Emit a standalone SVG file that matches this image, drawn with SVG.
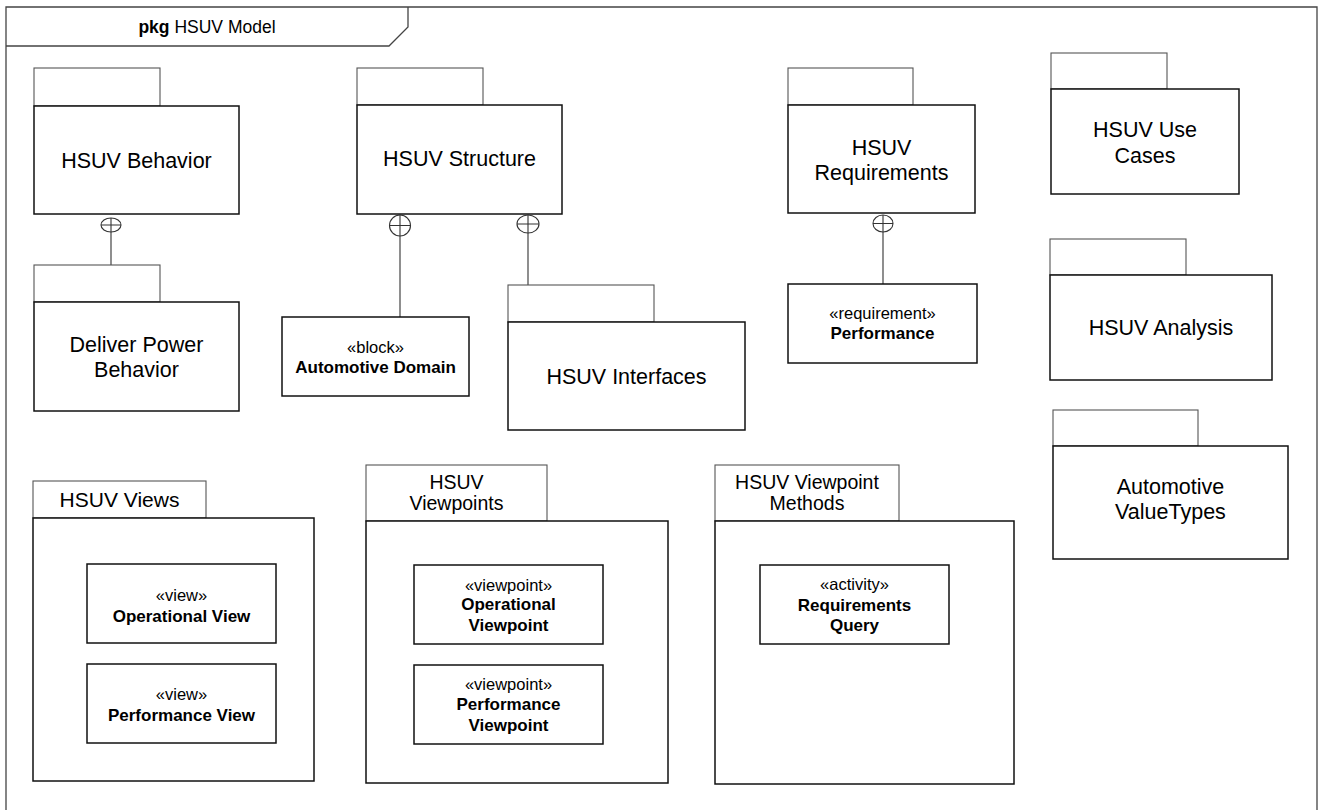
<svg xmlns="http://www.w3.org/2000/svg" width="1322" height="810" viewBox="0 0 1322 810">
<style>
.frame{fill:none;stroke:#444;stroke-width:1.3}
.tab{fill:#fff;stroke:#555;stroke-width:1.1}
.body{fill:#fff;stroke:#111;stroke-width:1.5}
.box{fill:#fff;stroke:#111;stroke-width:1.5}
.conn{fill:none;stroke:#444;stroke-width:1.2}
.own{fill:#fff;stroke:#333;stroke-width:1.1}
text{font-family:"Liberation Sans",Arial,sans-serif;fill:#000;text-anchor:middle}
.pn{font-size:21.5px}
.tn{font-size:21px}
.tn2{font-size:19.5px}
.st{font-size:16.5px}
.nm{font-size:17px;font-weight:bold}
.ttl{font-size:17.5px}
</style>
<rect x="0" y="0" width="1322" height="810" fill="#fff"/>
<g id="frame">
<path class="frame" d="M6,820 V7 H1317 V820"/>
<path class="frame" d="M6,46 H389 L408,27 V7"/>
<text class="ttl" x="207" y="32.5"><tspan font-weight="bold">pkg</tspan> HSUV Model</text>
</g>
<g id="connectors">
<line class="conn" x1="111" y1="232" x2="111" y2="265"/>
<line class="conn" x1="400" y1="236" x2="400" y2="317"/>
<line class="conn" x1="528" y1="233" x2="528" y2="285"/>
<line class="conn" x1="883" y1="232" x2="883" y2="284"/>
<g>
<ellipse class="own" cx="111" cy="225" rx="10" ry="7"/>
<path class="own" d="M101,225 H121 M111,218 V232"/>
<ellipse class="own" cx="400" cy="225.5" rx="10.5" ry="10.5"/>
<path class="own" d="M389.5,225.5 H410.5 M400,215 V236"/>
<ellipse class="own" cx="528" cy="224" rx="11" ry="9"/>
<path class="own" d="M517,224 H539 M528,215 V233"/>
<ellipse class="own" cx="883" cy="223.5" rx="10" ry="8.5"/>
<path class="own" d="M873,223.5 H893 M883,215 V232"/>
</g>
</g>
<g id="hsuv-behavior">
<rect class="tab" x="34" y="68" width="126" height="38"/>
<rect class="body" x="34" y="106" width="205" height="108"/>
<text class="pn" x="136.5" y="167.5">HSUV Behavior</text>
</g>
<g id="deliver-power-behavior">
<rect class="tab" x="34" y="265" width="126" height="37"/>
<rect class="body" x="34" y="302" width="205" height="109"/>
<text class="pn" x="136.5" y="351.5">Deliver Power</text>
<text class="pn" x="136.5" y="376.5">Behavior</text>
</g>
<g id="hsuv-structure">
<rect class="tab" x="357" y="68" width="126" height="37"/>
<rect class="body" x="357" y="105" width="205" height="109"/>
<text class="pn" x="459.5" y="166">HSUV Structure</text>
</g>
<g id="automotive-domain">
<rect class="box" x="282" y="317" width="187" height="79"/>
<text class="st" x="375.5" y="353">«block»</text>
<text class="nm" x="375.5" y="373">Automotive Domain</text>
</g>
<g id="hsuv-interfaces">
<rect class="tab" x="508" y="285" width="146" height="37"/>
<rect class="body" x="508" y="322" width="237" height="108"/>
<text class="pn" x="626.5" y="384">HSUV Interfaces</text>
</g>
<g id="hsuv-requirements">
<rect class="tab" x="788" y="68" width="125" height="37"/>
<rect class="body" x="788" y="105" width="187" height="108"/>
<text class="pn" x="881.5" y="155">HSUV</text>
<text class="pn" x="881.5" y="180">Requirements</text>
</g>
<g id="performance">
<rect class="box" x="788" y="284" width="189" height="79"/>
<text class="st" x="882.5" y="319">«requirement»</text>
<text class="nm" x="882.5" y="339">Performance</text>
</g>
<g id="hsuv-use-cases">
<rect class="tab" x="1051" y="53" width="116" height="36"/>
<rect class="body" x="1051" y="89" width="188" height="105"/>
<text class="pn" x="1145" y="137">HSUV Use</text>
<text class="pn" x="1145" y="162.5">Cases</text>
</g>
<g id="hsuv-analysis">
<rect class="tab" x="1050" y="239" width="136" height="36"/>
<rect class="body" x="1050" y="275" width="222" height="105"/>
<text class="pn" x="1161" y="335">HSUV Analysis</text>
</g>
<g id="automotive-valuetypes">
<rect class="tab" x="1053" y="410" width="145" height="36"/>
<rect class="body" x="1053" y="446" width="235" height="113"/>
<text class="pn" x="1170.5" y="494">Automotive</text>
<text class="pn" x="1170.5" y="519">ValueTypes</text>
</g>
<g id="hsuv-views">
<rect class="tab" x="33" y="481" width="173" height="37"/>
<rect class="body" x="33" y="518" width="281" height="263"/>
<text class="tn" x="119.5" y="507">HSUV Views</text>
<g id="operational-view">
<rect class="box" x="87" y="564" width="189" height="79"/>
<text class="st" x="181.5" y="601">«view»</text>
<text class="nm" x="181.5" y="622">Operational View</text>
</g>
<g id="performance-view">
<rect class="box" x="87" y="664" width="189" height="79"/>
<text class="st" x="181.5" y="700">«view»</text>
<text class="nm" x="181.5" y="721">Performance View</text>
</g>
</g>
<g id="hsuv-viewpoints">
<rect class="tab" x="366" y="465" width="181" height="56"/>
<rect class="body" x="366" y="521" width="302" height="262"/>
<text class="tn2" x="456.5" y="488.5">HSUV</text>
<text class="tn2" x="456.5" y="510">Viewpoints</text>
<g id="operational-viewpoint">
<rect class="box" x="414" y="565" width="189" height="79"/>
<text class="st" x="508.5" y="590.5">«viewpoint»</text>
<text class="nm" x="508.5" y="610">Operational</text>
<text class="nm" x="508.5" y="631">Viewpoint</text>
</g>
<g id="performance-viewpoint">
<rect class="box" x="414" y="665" width="189" height="79"/>
<text class="st" x="508.5" y="690">«viewpoint»</text>
<text class="nm" x="508.5" y="710">Performance</text>
<text class="nm" x="508.5" y="731">Viewpoint</text>
</g>
</g>
<g id="hsuv-viewpoint-methods">
<rect class="tab" x="715" y="465" width="184" height="56"/>
<rect class="body" x="715" y="521" width="299" height="263"/>
<text class="tn2" x="807" y="489">HSUV Viewpoint</text>
<text class="tn2" x="807" y="510">Methods</text>
<g id="requirements-query">
<rect class="box" x="760" y="565" width="189" height="79"/>
<text class="st" x="854.5" y="590">«activity»</text>
<text class="nm" x="854.5" y="611">Requirements</text>
<text class="nm" x="854.5" y="631">Query</text>
</g>
</g>
</svg>
